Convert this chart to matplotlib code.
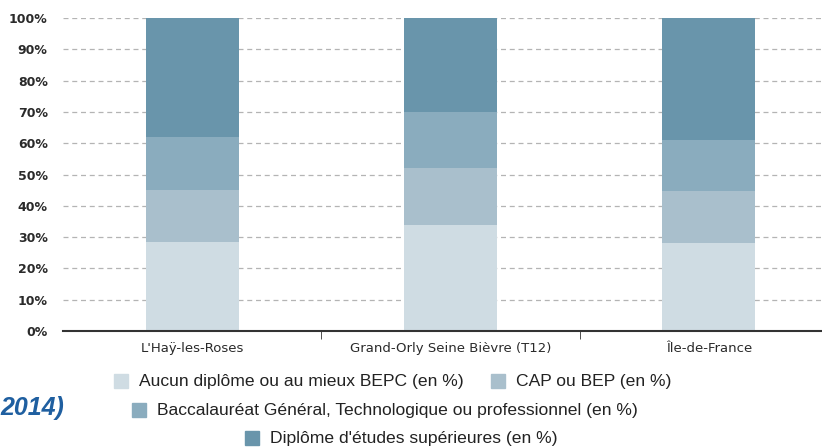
import matplotlib.pyplot as plt
from matplotlib.patches import Rectangle

plt.rcParams['font.family'] = ['Liberation Sans', 'DejaVu Sans']

categories = ["L'Haÿ-les-Roses", "Grand-Orly Seine Bièvre (T12)", "Île-de-France"]
aucun = [28.4, 33.9, 28.1]
cap_bep = [16.6, 18.2, 16.6]
bac = [17.0, 17.9, 16.3]
sup = [38.0, 30.0, 39.0]

series = [aucun, cap_bep, bac, sup]
labels = ["Aucun diplôme ou au mieux BEPC (en %)", "CAP ou BEP (en %)",
          "Baccalauréat Général, Technologique ou professionnel (en %)",
          "Diplôme d'études supérieures (en %)"]
colors = ['#cfdce3', '#a9bfcc', '#8aacbe', '#6995ab']

W, H = 822, 448
fig = plt.figure(figsize=(W / 100, H / 100), dpi=100)
ax = fig.add_axes([63 / W, (H - 331) / H, (838 - 63) / W, (331 - 18) / H])

x = list(range(len(categories)))
bottom = [0, 0, 0]
for vals, col in zip(series, colors):
    ax.bar(x, vals, width=0.36, bottom=bottom, color=col, zorder=2)
    bottom = [b + v for b, v in zip(bottom, vals)]

ax.set_xlim(-0.5, 2.5)
ax.set_ylim(0, 100)
ax.set_yticks(range(0, 101, 10))
ax.set_yticklabels([f'{v}%' for v in range(0, 101, 10)], fontsize=9, fontweight='bold',
                   family='DejaVu Sans', color='#2a2a2a')
ax.yaxis.grid(True, linestyle=(0, (4, 3)), color='#b4b4b4', linewidth=0.9, zorder=0)
ax.tick_params(axis='y', length=0, pad=11)

ax.set_xticks(x)
ax.set_xticklabels(categories, fontsize=9.5, family='DejaVu Sans', color='#2a2a2a')
ax.set_xticks([0.5, 1.5], minor=True)
ax.tick_params(axis='x', which='major', length=0, pad=8)
ax.tick_params(axis='x', which='minor', length=6, direction='out', color='#333333')

for s in ['top', 'right', 'left']:
    ax.spines[s].set_visible(False)
ax.spines['bottom'].set_color('#333333')
ax.spines['bottom'].set_linewidth(1.5)

# legend drawn by hand to follow the original layout
leg = [(114, 381, 0), (491, 381, 1), (132, 410, 2), (245, 438, 3)]
for lx, ly, i in leg:
    fig.patches.append(Rectangle((lx / W, (H - ly - 7) / H), 14 / W, 14 / H,
                                 transform=fig.transFigure, color=colors[i]))
    fig.text((lx + 25) / W, (H - ly) / H, labels[i], fontsize=12.6, va='center', color='#222222')

fig.text(0, (H - 408) / H, '2014)', fontsize=18, fontweight='bold', style='italic',
         color='#1f5fa0', va='center', ha='left')

fig.savefig('out.png', dpi=100)
